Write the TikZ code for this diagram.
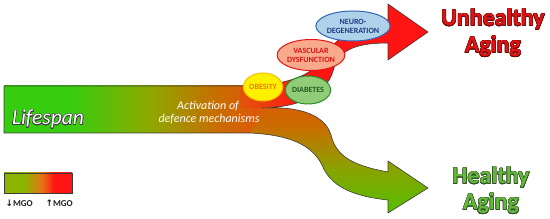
\documentclass[tikz,border=0pt]{standalone}
\usepackage{fontspec}
\setmainfont{Carlito}
\newfontfamily\arrowfont{DejaVu Sans}
\usepackage{contour}
\contourlength{0.45pt}
\usetikzlibrary{shapes.geometric}
\definecolor{bargreen}{RGB}{55,205,15}
\definecolor{barolive}{RGB}{140,170,0}
\definecolor{barbrown}{RGB}{200,110,0}
\definecolor{barorange}{RGB}{225,85,10}
\definecolor{arrred}{RGB}{255,20,20}
\definecolor{lowgreen}{RGB}{85,190,0}
\definecolor{lowolive}{RGB}{135,165,0}
\definecolor{lowbrown}{RGB}{200,110,0}
\definecolor{loworange}{RGB}{215,95,0}
\definecolor{legolive}{RGB}{140,180,0}
\definecolor{legorange}{RGB}{230,115,20}
\definecolor{outlinegray}{RGB}{60,60,60}
\definecolor{uhred}{RGB}{225,20,20}
\definecolor{uhdark}{RGB}{110,10,10}
\definecolor{hgreen}{RGB}{100,185,60}
\definecolor{hdark}{RGB}{50,80,40}
\definecolor{obfill}{RGB}{255,240,0}
\definecolor{obdraw}{RGB}{245,190,0}
\definecolor{obtext}{RGB}{240,120,0}
\definecolor{difill}{RGB}{145,205,120}
\definecolor{didraw}{RGB}{40,140,40}
\definecolor{ditext}{RGB}{30,90,30}
\definecolor{vafill}{RGB}{250,170,140}
\definecolor{vadraw}{RGB}{230,20,20}
\definecolor{vatext}{RGB}{215,20,20}
\definecolor{nefill}{RGB}{175,210,235}
\definecolor{nedraw}{RGB}{50,100,180}
\definecolor{netext}{RGB}{30,60,130}
\definecolor{mgotext}{RGB}{30,30,30}
\pgfdeclarehorizontalshading{barshade}{100bp}{color(0bp)=(bargreen); color(38bp)=(bargreen); color(53bp)=(barolive); color(66bp)=(barbrown); color(75bp)=(barorange); color(100bp)=(barorange)}
\pgfdeclarehorizontalshading{upshade}{100bp}{color(0bp)=(barorange); color(25bp)=(barorange); color(42bp)=(arrred); color(100bp)=(arrred)}
\pgfdeclareverticalshading{lowshade}{100bp}{color(0bp)=(lowgreen); color(25bp)=(lowgreen); color(45bp)=(lowolive); color(65bp)=(lowbrown); color(75bp)=(loworange); color(100bp)=(loworange)}
\pgfdeclarehorizontalshading{legshade}{100bp}{color(0bp)=(legolive); color(40bp)=(legolive); color(53bp)=(legorange); color(62bp)=(arrred); color(100bp)=(arrred)}
\begin{document}
\begin{tikzpicture}[x=1pt,y=-1pt,
  ell/.style={ellipse, line width=1pt, inner sep=0pt, align=center, font=\fontsize{8}{9}\selectfont\bfseries},
  outl/.style={draw=outlinegray, line width=0.6pt, line join=round},
  bigtxt/.style={anchor=base, font=\fontsize{24}{24}\selectfont\bfseries},
  acttxt/.style={anchor=base, text=white, font=\fontsize{12}{12}\selectfont\itshape},
  mgotxt/.style={anchor=base west, text=mgotext, font=\fontsize{9}{9}\selectfont\bfseries}]
\useasboundingbox (0,0) rectangle (550,219);
% bar
\shade[shading=barshade] (4,86) rectangle (262,133);
% upper arrow
\shade[shading=upshade] (240,86) .. controls (270,86) and (300,82) .. (318,65) .. controls (335,45) and (345,20) .. (388,20) -- (388,4) -- (428,32) -- (388,60) -- (388,43) .. controls (360,43) and (340,48) .. (334,68) .. controls (328,92) and (305,107) .. (262,108) -- (240,108) -- cycle;
% lower arrow
\shade[shading=lowshade] (262,108) .. controls (300,106) and (325,115) .. (331,135) .. controls (336,155) and (350,165) .. (388,172) -- (388,161) -- (428,188) -- (388,213) -- (388,200) .. controls (350,196) and (330,185) .. (322,165) .. controls (312,145) and (290,135) .. (250,133) -- cycle;
% outline
\path[outl] (4,133) -- (4,86) -- (240,86) .. controls (270,86) and (300,82) .. (318,65) .. controls (335,45) and (345,20) .. (388,20) -- (388,4) -- (428,32) -- (388,60) -- (388,43) .. controls (360,43) and (340,48) .. (334,68) .. controls (328,92) and (305,107) .. (262,108) .. controls (300,106) and (325,115) .. (331,135) .. controls (336,155) and (350,165) .. (388,172) -- (388,161) -- (428,188) -- (388,213) -- (388,200) .. controls (350,196) and (330,185) .. (322,165) .. controls (312,145) and (290,135) .. (250,133) -- cycle;
% ellipses
\node[ell, fill=obfill, draw=obdraw, text=obtext, minimum width=35pt, minimum height=28pt] (obesity) at (263,87) {OBESITY};
\node[ell, fill=difill, draw=didraw, text=ditext, minimum width=42pt, minimum height=28pt] (diabetes) at (308,90) {DIABETES};
\node[ell, fill=vafill, draw=vadraw, text=vatext, minimum width=56pt, minimum height=31pt] (vascular) at (311,55) {VASCULAR\\DYSFUNCTION};
\node[ell, fill=nefill, draw=nedraw, text=netext, minimum width=58pt, minimum height=30pt] (neuro) at (353,26) {NEURO-\\DEGENERATION};
% texts
\node[bigtxt, text=uhred] (unh1) at (493,26) {\contour{uhdark}{Unhealthy}};
\node[bigtxt, text=uhred] (unh2) at (493,53) {\contour{uhdark}{Aging}};
\node[bigtxt, text=hgreen] (h1) at (491,184) {\contour{hdark}{Healthy}};
\node[bigtxt, text=hgreen] (h2) at (491,210) {\contour{hdark}{Aging}};
\node[anchor=base, text=white, font=\fontsize{21.5}{21.5}\selectfont\itshape] (life) at (48,125) {\contour{outlinegray}{Lifespan}};
\node[acttxt] (act1) at (208,110) {Activation of};
\node[acttxt] (act2) at (209,123) {defence mechanisms};
% legend
\shadedraw[shading=legshade, draw=outlinegray, line width=0.6pt] (4,173) rectangle (72,193);
\node[mgotxt] (mgolow) at (2,207) {{\arrowfont ↓}MGO};
\node[mgotxt] (mgohigh) at (42,207) {{\arrowfont ↑}MGO};
\end{tikzpicture}
\end{document}
